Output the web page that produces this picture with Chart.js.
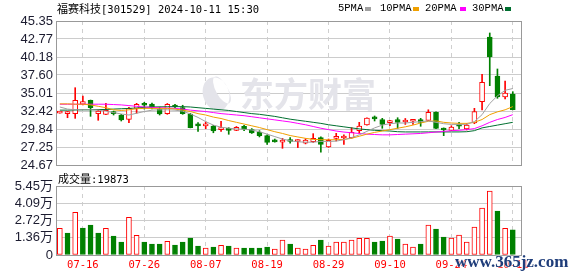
<!DOCTYPE html>
<html><head><meta charset="utf-8">
<script src="https://cdn.jsdelivr.net/npm/chart.js@4"></script>
<style>
html,body{margin:0;padding:0;background:#fff;width:578px;height:276px;overflow:hidden;position:relative}
canvas{position:absolute;left:0}
#c1{top:0}
#c2{top:170px}
.t{position:absolute;white-space:pre;color:#000}
.cjk{font-family:"Noto Sans CJK SC";font-size:11px}
.mono{font-family:"DejaVu Sans Mono";font-size:10.5px}
.lg{position:absolute;top:2px;font-family:"Liberation Mono";font-size:10.5px;line-height:12px;color:#000;white-space:pre}
.sq{position:absolute;top:7px;width:6px;height:4px}
</style></head><body>
<canvas id="c1" width="578" height="182"></canvas>
<canvas id="c2" width="578" height="106"></canvas>
<div class="t" style="left:57px;top:0px;line-height:16px"><span class="cjk">福赛科技</span><span class="mono">[301529] 2024-10-11 15:30</span></div>
<div class="lg" style="left:338px">5PMA</div><div class="sq" style="left:365px;background:#a0a0a0"></div>
<div class="lg" style="left:380px">10PMA</div><div class="sq" style="left:413px;background:#f0a000"></div>
<div class="lg" style="left:425px">20PMA</div><div class="sq" style="left:460px;background:#ff00ff"></div>
<div class="lg" style="left:472px">30PMA</div><div class="sq" style="left:505px;background:#006f30"></div>
<div class="t" style="left:58px;top:170px;line-height:15px"><span class="cjk">成交量</span><span class="mono">:19873</span></div>
<div class="t" style="left:455px;top:253px;font-family:'Liberation Serif';font-weight:bold;font-size:17px;line-height:17px;color:#1f3d7a;text-shadow:0 0 2px #fff,0 0 2px #fff">www.365jz.com</div>
<script>
const dates = ["07-11","07-12","07-15","07-16","07-17","07-18","07-19","07-22","07-23","07-24","07-25","07-26","07-29","07-30","07-31",
"08-01","08-02","08-05","08-06","08-07","08-08","08-09","08-12","08-13","08-14","08-15","08-16","08-19","08-20","08-21","08-22","08-23","08-26","08-27","08-28","08-29","08-30",
"09-02","09-03","09-04","09-05","09-06","09-09","09-10","09-11","09-12","09-13","09-18","09-19","09-20","09-23","09-24","09-25","09-26","09-27","09-30",
"10-08","10-09","10-10","10-11"];
const tickDates = ["07-16","07-26","08-07","08-19","08-29","09-10","09-24","10-11"];
const priceTicks = [24.67,27.25,29.84,32.42,35.01,37.60,40.18,42.77,45.35];
const volTicks = [0,13625,27250,40875,54500];
const volTickLabels = ["0","1.36万","2.72万","4.09万","5.45万"];

const open  = [32.12,32.05,32.04,33.39,33.96,32.04,31.95,32.15,31.85,31.23,32.81,33.35,33.43,32.71,32.04,33.29,32.90,32.00,30.40,30.30,
30.27,29.75,29.75,29.65,30.23,29.74,29.41,28.88,28.05,27.95,28.15,28.05,27.80,28.02,28.60,27.26,28.50,28.55,28.60,29.60,
30.41,31.40,31.18,30.75,31.18,30.85,30.95,31.18,31.09,32.23,29.80,29.65,30.35,29.84,30.70,33.76,43.05,37.45,34.44,34.87];
const high  = [32.35,32.35,35.77,34.58,34.00,32.60,33.53,32.42,31.95,32.96,33.53,33.67,33.57,33.00,33.50,33.40,33.25,32.10,30.75,30.85,
30.37,30.95,30.03,30.20,30.35,29.90,29.60,29.00,28.40,28.50,28.60,28.30,28.45,29.17,28.70,28.40,29.22,29.00,30.03,30.80,
31.45,31.71,31.37,31.09,31.46,31.35,31.05,31.37,32.60,32.30,30.00,30.30,30.80,30.60,32.81,37.70,43.63,38.46,36.73,35.20];
const low   = [32.10,31.46,31.37,33.30,31.66,31.09,31.90,31.85,30.99,30.75,32.10,32.71,32.71,31.85,31.95,32.90,31.95,30.00,29.50,29.88,
29.30,29.50,29.08,29.60,29.60,29.20,28.70,27.64,27.95,27.07,27.80,27.17,27.70,27.90,26.50,27.20,28.12,27.64,28.50,29.22,
30.40,30.99,29.94,30.32,29.94,30.50,30.50,30.23,31.05,29.90,28.88,29.60,29.90,29.70,30.60,32.57,36.06,34.25,34.15,32.60];
const close = [32.30,32.20,33.96,33.76,32.90,32.42,32.52,32.05,31.13,32.81,33.39,33.25,32.95,32.00,33.39,33.00,32.05,30.03,30.30,30.40,
29.55,29.90,29.65,30.08,29.80,29.27,28.88,27.93,28.00,28.05,28.05,28.15,28.26,28.50,27.64,28.21,28.65,28.65,29.36,30.27,
31.42,31.30,30.51,30.85,30.80,30.95,31.00,30.80,32.23,29.94,29.70,30.13,30.25,30.41,32.33,36.55,40.18,34.44,35.01,32.62];

const ma5  = [33.00,32.70,32.60,32.60,32.60,32.55,32.40,32.20,32.00,31.85,32.10,32.35,32.55,32.60,32.60,32.55,32.40,32.00,31.50,30.90,
30.40,30.10,29.95,29.85,29.80,29.70,29.45,29.10,28.75,28.40,28.15,28.00,27.95,27.95,28.05,28.05,28.10,28.30,28.60,29.00,
29.50,30.00,30.40,30.60,30.70,30.70,30.80,30.90,31.00,30.80,30.60,30.50,30.50,30.50,30.90,31.90,33.50,34.60,35.40,35.65];
const ma10 = [33.45,33.45,33.40,33.40,33.30,33.10,32.90,32.60,32.50,32.60,32.75,32.80,32.80,32.80,32.80,32.70,32.55,32.35,32.05,31.85,
31.55,31.35,31.05,30.80,30.55,30.30,30.05,29.75,29.45,29.20,28.90,28.70,28.50,28.35,28.30,28.30,28.30,28.35,28.50,28.80,
29.10,29.35,29.55,29.75,29.95,30.15,30.40,30.70,30.95,31.00,30.80,30.70,30.65,30.65,30.80,31.20,31.90,32.30,32.60,33.05];
const ma20 = [33.40,33.40,33.40,33.40,33.40,33.40,33.40,33.35,33.30,33.20,33.10,33.00,32.95,32.90,32.85,32.80,32.70,32.55,32.45,32.35,
32.20,32.05,31.95,31.85,31.75,31.60,31.45,31.30,31.15,31.00,30.85,30.65,30.45,30.20,29.95,29.75,29.55,29.40,29.30,29.20,
29.10,29.05,29.00,29.00,29.05,29.10,29.15,29.20,29.30,29.40,29.50,29.60,29.65,29.75,29.90,30.30,30.80,31.20,31.50,31.90];
const ma30 = [32.55,32.55,32.57,32.60,32.60,32.62,32.65,32.70,32.75,32.80,32.85,32.95,33.00,33.02,33.04,33.05,33.05,33.00,32.90,32.80,
32.70,32.60,32.50,32.35,32.20,32.05,31.95,31.80,31.65,31.45,31.25,31.10,30.95,30.80,30.65,30.45,30.30,30.15,30.00,29.85,
29.75,29.65,29.60,29.55,29.45,29.42,29.42,29.42,29.42,29.42,29.42,29.42,29.42,29.45,29.60,30.00,30.20,30.40,30.60,30.80];

const volume = [21100,17380,33700,21330,23700,17380,21100,15010,10270,29760,15540,10270,8690,8690,10800,7900,10270,13430,7110,5530,
6320,7640,7110,5530,5530,5530,5530,6320,4740,11850,8690,5530,4740,7640,11850,7110,10270,10270,11850,13170,
13170,10270,11060,15010,12640,8690,6320,8690,23700,20540,14220,13430,15800,10270,22120,37130,50560,34760,21100,19873];
// 1 = rising (red hollow), 0 = falling (green)
const volUp = [1,0,1,0,0,0,1,0,0,1,1,0,0,0,1,0,0,0,0,1,0,1,0,1,0,0,0,0,1,1,0,1,1,1,0,1,1,1,1,1,1,0,0,1,0,1,1,0,1,0,0,1,1,1,1,1,1,0,1,0];

const RED = '#ff0000', GREEN = '#008000';
const tickIdx = tickDates.map(d => dates.indexOf(d));
const xs = dates.map((d, i) => i);

const frame = {id:'frame', afterDraw(c){
  const a = c.chartArea, ctx = c.ctx; ctx.save();
  ctx.strokeStyle = '#999'; ctx.lineWidth = 1;
  ctx.strokeRect(Math.round(a.left)+0.5, Math.round(a.top)+0.5, Math.round(a.right-a.left)-1, Math.round(a.bottom-a.top));
  ctx.restore();
}};
const watermark = {id:'wm', beforeDatasetsDraw(c){
  const ctx = c.ctx; ctx.save();
  ctx.fillStyle = '#e4e4ea';
  ctx.beginPath();
  ctx.ellipse(216, 94, 13, 17, -0.3, 0, Math.PI*2);
  ctx.ellipse(222, 90, 6, 15, -0.5, Math.PI*2, 0, true);
  ctx.fill('evenodd');
  ctx.font = 'bold 34px "Noto Sans CJK SC"'; ctx.textBaseline = 'middle';
  ctx.fillText('东方财富', 240, 94);
  ctx.restore();
}};

const xBase = {
  type:'linear', min:-0.5, max:60.2, offset:false,
  grid:{color:'#cfcfcf', drawTicks:false, offset:false, lineWidth:1},
  border:{display:false, dash:[4,4]},
  afterBuildTicks: s => { s.ticks = tickIdx.map(v => ({value:v})); }
};

new Chart(document.getElementById('c1'), {
  type:'bar',
  data:{datasets:[
    {type:'line', data: ma5.map((v,i)=>({x:xs[i],y:v})), borderColor:'#a0a0a0', borderWidth:1, pointRadius:0, order:0},
    {type:'line', data: ma10.map((v,i)=>({x:xs[i],y:v})), borderColor:'#f0a000', borderWidth:1, pointRadius:0, order:0},
    {type:'line', data: ma20.map((v,i)=>({x:xs[i],y:v})), borderColor:'#ff00ff', borderWidth:1, pointRadius:0, order:0},
    {type:'line', data: ma30.map((v,i)=>({x:xs[i],y:v})), borderColor:'#006f30', borderWidth:1, pointRadius:0, order:0},
    {type:'bar', data: open.map((o,i)=>({x:xs[i], y:[o, close[i]]})),
      backgroundColor: open.map((o,i)=> close[i] >= o ? '#ffffff' : GREEN),
      borderColor: open.map((o,i)=> close[i] >= o ? RED : GREEN),
      borderWidth:1, borderSkipped:false, barThickness:5, minBarLength:2, grouped:false, order:5},
    {type:'bar', data: low.map((l,i)=>({x:xs[i], y:[l, high[i]]})),
      backgroundColor: open.map((o,i)=> close[i] >= o ? RED : GREEN),
      borderWidth:0, barThickness:1, grouped:false, order:6}
  ]},
  options:{
    responsive:false, animation:false, events:[],
    layout:{padding:{left:0, right:56, top:21, bottom:17}},
    plugins:{legend:{display:false}, tooltip:{enabled:false}},
    scales:{
      x:Object.assign({}, xBase, {ticks:{display:false}, afterFit: s => { s.height = 0; }}),
      y:{type:'linear', min:24.67, max:45.35, beginAtZero:false,
        grid:{color:'#cccccc', drawTicks:false}, border:{display:false},
        ticks:{padding:3, autoSkip:false, color:'#1c1c30', font:{family:'"Liberation Sans"', size:13}, callback: v => Number(v).toFixed(2)},
        afterBuildTicks: s => { s.ticks = priceTicks.map(v => ({value:v})); },
        afterFit: s => { s.width = 56; }}
    }
  },
  plugins:[watermark, frame]
});

new Chart(document.getElementById('c2'), {
  type:'bar',
  data:{datasets:[
    {data: volume.map((v,i)=>({x:xs[i], y:v})),
      backgroundColor: volUp.map(u => u ? '#ffffff' : GREEN),
      borderColor: volUp.map(u => u ? RED : GREEN),
      borderWidth:1, borderSkipped:false, barThickness:5, grouped:false}
  ]},
  options:{
    responsive:false, animation:false, events:[],
    layout:{padding:{left:0, right:56, top:16, bottom:0}},
    plugins:{legend:{display:false}, tooltip:{enabled:false}},
    scales:{
      x:Object.assign({}, xBase, {
        ticks:{display:true, color:RED, padding:4, maxRotation:0, autoSkip:false,
          font:{family:'"DejaVu Sans Mono"', size:10.5}, callback: v => dates[v]},
        afterFit: s => { s.height = 21; }}),
      y:{type:'linear', min:0, max:54500, beginAtZero:true,
        grid:{color:'#cccccc', drawTicks:false}, border:{display:false},
        ticks:{padding:3, autoSkip:false, color:'#1c1c30', font:{family:'"Liberation Sans", "Noto Sans CJK SC"', size:13},
          callback: (v, i) => volTickLabels[volTicks.indexOf(v)]},
        afterBuildTicks: s => { s.ticks = volTicks.map(v => ({value:v})); },
        afterFit: s => { s.width = 56; }}
    }
  },
  plugins:[frame]
});
</script>
</body></html>
